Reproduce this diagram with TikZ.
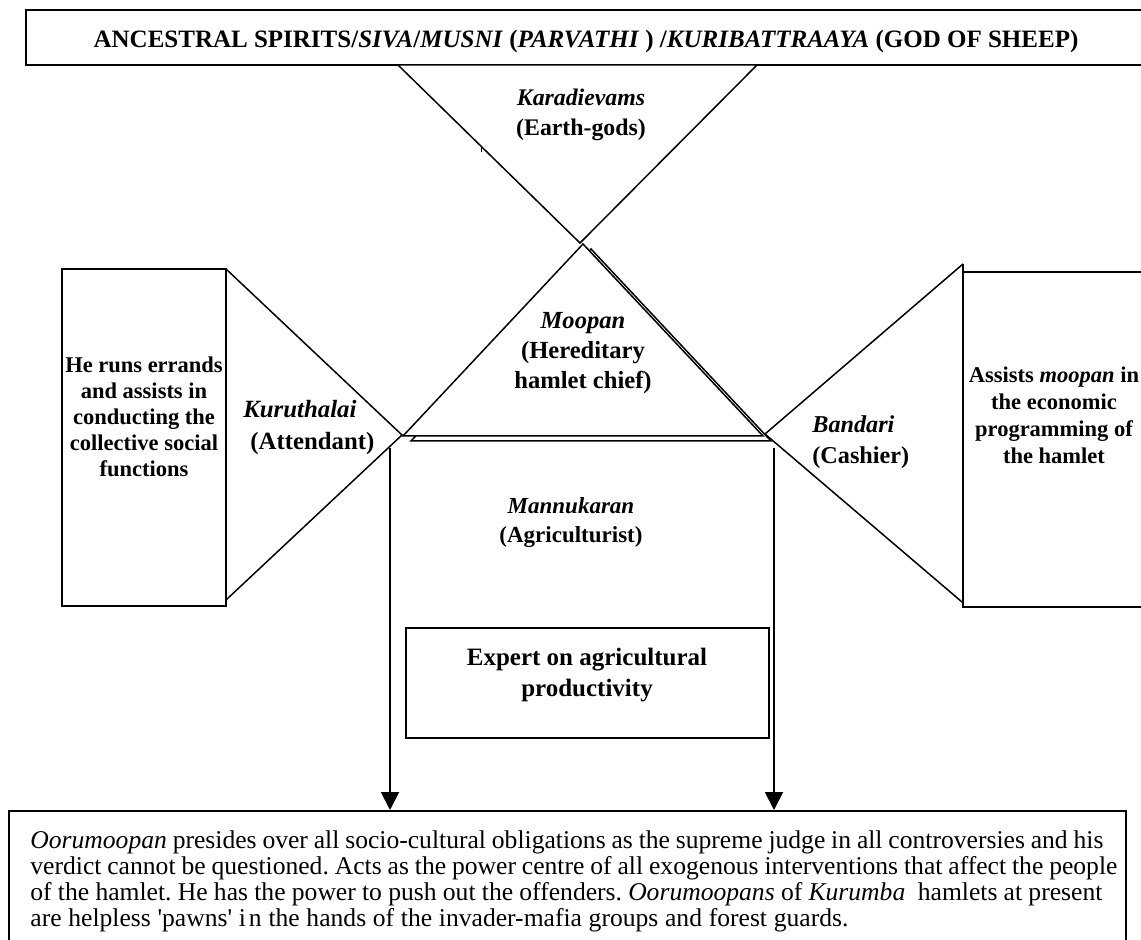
\documentclass[tikz,border=0pt]{standalone}
\usepackage{fontspec}
\setmainfont{Liberation Serif}
\usetikzlibrary{arrows.meta}
\frenchspacing
\newcommand{\bodyline}[2]{\makebox[#1][s]{#2}}
\begin{document}
\begin{tikzpicture}[x=0.5pt,y=-0.5pt,
  frame/.style={draw=black,line width=1pt},
  tri/.style={draw=black,line width=0.75pt,line join=miter},
  boldtext/.style 2 args={inner sep=0pt,align=center,font=\fontsize{#1}{#2}\selectfont\bfseries},
  bodytext/.style={inner sep=0pt,align=left,font=\fontsize{12.8}{13.1}\selectfont},
  down/.style={draw=black,line width=1pt,-{Triangle[length=9pt,width=9pt]}}]
\useasboundingbox (0,0) rectangle (1141,940);
\clip (0,0) rectangle (1141,940);

% top banner and the bottom statement box (both run past the page edge)
\draw[frame] (26,10) rectangle (1150,65);
\node[boldtext={12.5}{14},anchor=base] (title) at (586,48)
  {ANCESTRAL SPIRITS/\textit{SIVA}/\textit{MUSNI} (\textit{PARVATHI} ) /\textit{KURIBATTRAAYA} (GOD OF SHEEP)};
\node[frame,fill=white,minimum width=558.5pt,minimum height=70pt,anchor=north west,inner sep=0pt] (verdict) at (8,810) {};

% inverted triangle of the earth-gods
\draw[tri,fill=white] (398,65) -- (757,65) -- (580,243) -- cycle;
\node[boldtext={11.9}{15},anchor=north] (karadi) at (581,89) {\textit{Karadievams}\\(Earth-gods)};
\draw[line width=0.4pt] (481,146) -- (481,152);

% side boxes with their triangles
\draw[frame] (62,269) rectangle (226,606);
\draw[tri] (226,269) -- (402,435) -- (226,600);
\draw[frame] (963,272) rectangle (1150,607);
\draw[tri] (963,264) -- (765,434) -- (962,602);
\draw[line width=0.75pt] (963,264) -- (963,272);

% hereditary chief triangle with its offset shadow
\draw[tri,fill=white] (411,441) -- (591,249) -- (771,441) -- cycle;
\draw[tri,fill=white] (403,436) -- (583,244) -- (763,436) -- cycle;
\node[boldtext={12.3}{15},anchor=north] (moopan) at (583,312) {\textit{Moopan}\\(Hereditary\\hamlet chief)};

% texts of the side roles
\node[boldtext={11.25}{13},anchor=north] (errands) at (144,356)
  {He runs errands\\and assists in\\conducting the\\collective social\\functions};
\node[boldtext={12.4}{16},align=left,anchor=north west] (kuru) at (243,400)
  {\textit{Kuruthalai}\\\hspace*{3.5pt}(Attendant)};
\node[boldtext={12.1}{15.5},align=left,anchor=north west] (bandari) at (812,415)
  {\textit{Bandari}\\(Cashier)};
\node[boldtext={11.25}{13.5},anchor=north] (assists) at (1054,366)
  {Assists \textit{moopan} in\\the economic\\programming of\\the hamlet};
\node[boldtext={11.5}{14.5},anchor=north] (mannu) at (571,497) {\textit{Mannukaran}\\(Agriculturist)};

% agricultural expert box
\node[frame,minimum width=181.5pt,minimum height=55pt,anchor=north west,inner sep=0pt] (expert) at (405,627) {};
\node[boldtext={12.5}{15.5},anchor=north] (experttext) at (587,648) {Expert on agricultural\\productivity};

% the two arrows down to the statement box
\coordinate (leftdrop) at (390,448);
\coordinate (rightdrop) at (774,448);
\draw[down] (leftdrop) -- (leftdrop |- verdict.north);
\draw[down] (rightdrop) -- (rightdrop |- verdict.north);

\node[bodytext,anchor=north west] (statement) at (30,830)
  {\bodyline{536.5pt}{\textit{Oorumoopan} presides over all socio-cultural obligations as the supreme judge in all controversies and his}\\
   \bodyline{543.5pt}{verdict cannot be questioned. Acts as the power centre of all exogenous interventions that affect the people}\\
   \bodyline{536pt}{of the hamlet. He has the power to push out the offenders. \textit{Oorumoopans} of \textit{Kurumba}\ \ hamlets at present}\\
   \bodyline{409pt}{are helpless \textquotesingle pawns\textquotesingle\ i\hspace{1.5pt}n the hands of the invader-mafia groups and forest guards.}};
\end{tikzpicture}
\end{document}
